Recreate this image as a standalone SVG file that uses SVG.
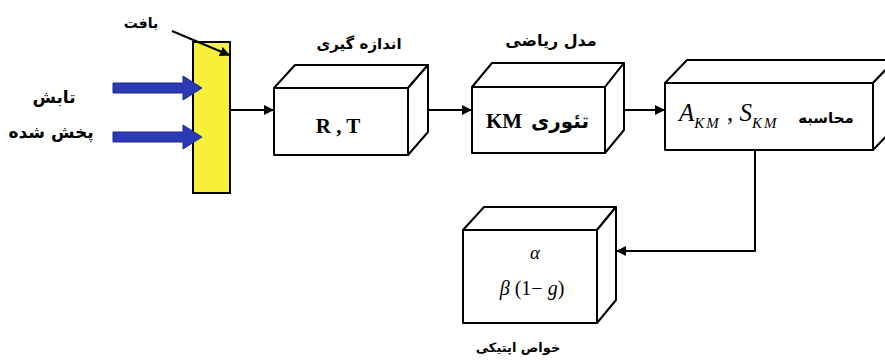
<svg xmlns="http://www.w3.org/2000/svg" width="885" height="363" viewBox="0 0 885 363">
<style>
.box{fill:#fff;stroke:#000;stroke-width:2;stroke-linejoin:round}
.fa{font-family:"DejaVu Sans",sans-serif;font-weight:bold;fill:#000}
.ser{font-family:"Liberation Serif",serif;fill:#000}
.con{fill:none;stroke:#000;stroke-width:2}
.blue{fill:#2c39b5;stroke:#1e2a90;stroke-width:1}
</style>
<defs>
<marker id="ah" viewBox="0 0 10 10" refX="9" refY="5" markerWidth="5" markerHeight="5" orient="auto" markerUnits="strokeWidth">
<path d="M0,0 L10,5 L0,10 z" fill="#000"/>
</marker>
</defs>

<g id="tissue">
<rect x="193" y="42" width="37" height="151" fill="#f7f03a" stroke="#000" stroke-width="2"/>
<text class="fa" x="141" y="28" text-anchor="middle" font-size="14">بافت</text>
</g>

<g id="radiation">
<polygon class="blue" points="113,83 183,83 183,76 202,88 183,100 183,93 113,93"/>
<polygon class="blue" points="113,132 183,132 183,125 202,137 183,149 183,142 113,142"/>
<text class="fa" x="54" y="103" text-anchor="middle" font-size="17">تابش</text>
<text class="fa" x="51" y="138" text-anchor="middle" font-size="17">پخش شده</text>
</g>

<g id="measure">
<polygon class="box" points="274,88 295,65 428,65 408,88"/>
<polygon class="box" points="408,88 428,65 428,132 408,155"/>
<rect class="box" x="274" y="88" width="134" height="67"/>
<text class="fa" x="359" y="49" text-anchor="middle" font-size="15">اندازه گیری</text>
<text class="ser" x="338" y="133" text-anchor="middle" font-size="21" font-weight="bold">R , T</text>
</g>

<g id="model">
<polygon class="box" points="472,87 492,63 624,63 605,87"/>
<polygon class="box" points="605,87 624,63 624,130 605,153"/>
<rect class="box" x="472" y="87" width="133" height="66"/>
<text class="fa" x="551" y="46" text-anchor="middle" font-size="16">مدل ریاضی</text>
<text class="ser" x="486" y="128" font-size="21" font-weight="bold">KM</text>
<text class="fa" x="560" y="128" text-anchor="middle" font-size="20">تئوری</text>
</g>

<g id="compute">
<polygon class="box" points="665,83 687,60 895,60 873,83"/>
<polygon class="box" points="873,83 895,60 895,127 873,150"/>
<rect class="box" x="665" y="83" width="208" height="67"/>
<text class="ser" x="679" y="121" font-size="25" font-style="italic">A<tspan font-size="15" letter-spacing="2" dy="7">KM</tspan><tspan font-size="25" font-style="normal" dy="-7" letter-spacing="0"> , </tspan><tspan font-size="25">S</tspan><tspan font-size="15" letter-spacing="2" dy="7">KM</tspan></text>
<text class="fa" x="826" y="123" text-anchor="middle" font-size="15">محاسبه</text>
</g>

<g id="optical">
<polygon class="box" points="463,230 484,207 616,207 597,230"/>
<polygon class="box" points="597,230 616,207 616,300 597,323"/>
<rect class="box" x="463" y="230" width="134" height="93"/>
<text class="ser" x="535" y="259" text-anchor="middle" font-size="19" font-style="italic">α</text>
<text class="ser" x="532" y="295" text-anchor="middle" font-size="20"><tspan font-style="italic">β</tspan> (1− <tspan font-style="italic">g</tspan>)</text>
<text class="fa" x="518" y="352" text-anchor="middle" font-size="13">خواص اپتیکی</text>
</g>

<g id="connectors">
<line class="con" x1="172" y1="31" x2="229" y2="55" marker-end="url(#ah)"/>
<line class="con" x1="230" y1="110" x2="273" y2="110" marker-end="url(#ah)"/>
<line class="con" x1="428" y1="110" x2="471" y2="110" marker-end="url(#ah)"/>
<line class="con" x1="624" y1="110" x2="664" y2="110" marker-end="url(#ah)"/>
<path class="con" d="M755,150 V251 H617" marker-end="url(#ah)"/>
</g>
</svg>
